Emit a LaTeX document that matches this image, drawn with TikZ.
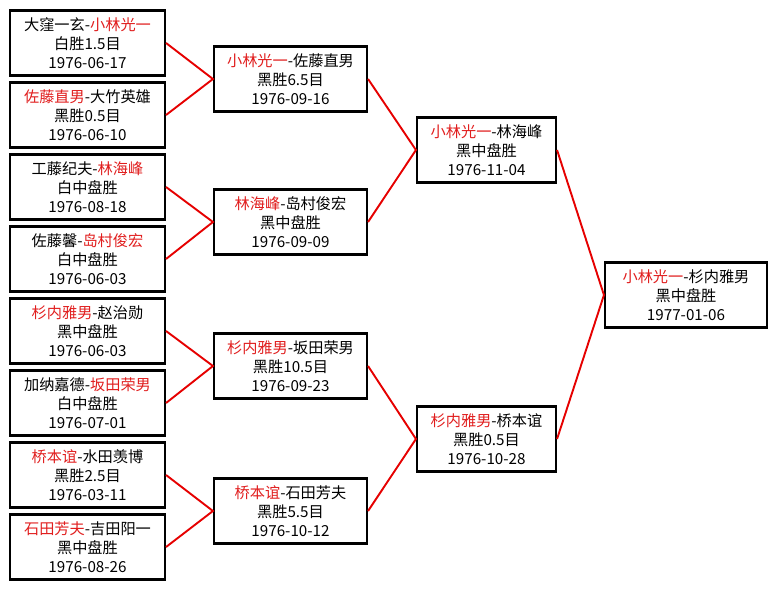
\documentclass[tikz,border=0pt]{standalone}
\usepackage{fontspec}
\setmainfont{Noto Sans CJK SC}
\definecolor{winred}{RGB}{225,30,30}
\definecolor{linered}{RGB}{230,0,0}
\tikzset{
  game/.style={draw=black, line width=2.1pt, fill=white, inner sep=0pt, align=center,
    minimum height=65pt, font=\fontsize{15.2}{19}\selectfont},
  colA/.style={game, minimum width=155pt},
  colB/.style={game, minimum width=153pt},
  colC/.style={game, minimum width=139pt},
  colD/.style={game, minimum width=162pt},
  link/.style={draw=linered, line width=1.9pt}
}
\newcommand{\win}[1]{\textcolor{winred}{#1}}
\begin{document}
\begin{tikzpicture}[x=1pt,y=-1pt]
\useasboundingbox[fill=white] (0,0) rectangle (769,589);
% round 1
\node[colA] (a1) at (87.5,43) {大窪一玄-\win{小林光一}\\白胜1.5目\\1976-06-17};
\node[colA] (a2) at (87.5,115) {\win{佐藤直男}-大竹英雄\\黑胜0.5目\\1976-06-10};
\node[colA] (a3) at (87.5,187) {工藤纪夫-\win{林海峰}\\白中盘胜\\1976-08-18};
\node[colA] (a4) at (87.5,259) {佐藤馨-\win{岛村俊宏}\\白中盘胜\\1976-06-03};
\node[colA] (a5) at (87.5,331) {\win{杉内雅男}-赵治勋\\黑中盘胜\\1976-06-03};
\node[colA] (a6) at (87.5,403) {加纳嘉德-\win{坂田荣男}\\白中盘胜\\1976-07-01};
\node[colA] (a7) at (87.5,475) {\win{桥本谊}-水田羡博\\黑胜2.5目\\1976-03-11};
\node[colA] (a8) at (87.5,547) {\win{石田芳夫}-吉田阳一\\黑中盘胜\\1976-08-26};
% round 2
\node[colB] (b1) at (290.5,79) {\win{小林光一}-佐藤直男\\黑胜6.5目\\1976-09-16};
\node[colB] (b2) at (290.5,222) {\win{林海峰}-岛村俊宏\\黑中盘胜\\1976-09-09};
\node[colB] (b3) at (290.5,366) {\win{杉内雅男}-坂田荣男\\黑胜10.5目\\1976-09-23};
\node[colB] (b4) at (290.5,511) {\win{桥本谊}-石田芳夫\\黑胜5.5目\\1976-10-12};
% round 3
\node[colC] (c1) at (486.5,150) {\win{小林光一}-林海峰\\黑中盘胜\\1976-11-04};
\node[colC] (c2) at (486.5,439) {\win{杉内雅男}-桥本谊\\黑胜0.5目\\1976-10-28};
% final
\node[colD] (d1) at (686,295) {\win{小林光一}-杉内雅男\\黑中盘胜\\1977-01-06};
% connectors
\draw[link] (a1.east) -- (b1.west) -- (a2.east);
\draw[link] (a3.east) -- (b2.west) -- (a4.east);
\draw[link] (a5.east) -- (b3.west) -- (a6.east);
\draw[link] (a7.east) -- (b4.west) -- (a8.east);
\draw[link] (b1.east) -- (c1.west) -- (b2.east);
\draw[link] (b3.east) -- (c2.west) -- (b4.east);
\draw[link] (c1.east) -- (d1.west) -- (c2.east);
\end{tikzpicture}
\end{document}
